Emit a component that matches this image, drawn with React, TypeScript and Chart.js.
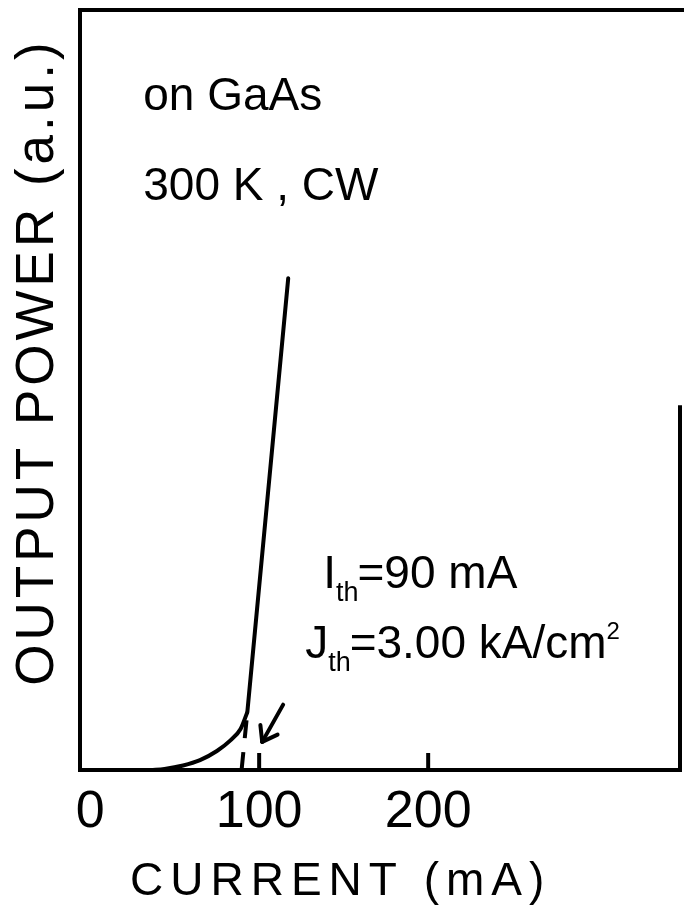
import React, { useEffect, useRef } from "react";
import { Chart, registerables } from "chart.js";

Chart.register(...registerables);

// ---------------- data (current in mA, output power in a.u.) ----------------
const X_MIN = -6;
const X_MAX = 349;
const Y_MIN = 0;
const Y_MAX = 100;
const X_TICKS = [0, 100, 200];
const X_TICK_MARKS = [100, 200];

// spontaneous-emission part below threshold
const SUB_CURRENT = [36, 44, 55, 65, 75, 83, 89, 93];
const SUB_POWER = [0, 0.15, 0.6, 1.3, 2.5, 3.9, 5.4, 7.6];
// lasing part above threshold
const LASE_CURRENT = [93, 117.2];
const LASE_POWER = [7.6, 64.7];
// dashed extrapolation to threshold
const THRESH_CURRENT = [89.6, 93];
const THRESH_POWER = [0, 7.6];
// arrow pointing at threshold (tail, tip)
const ARROW_CURRENT = [114.2, 101.8];
const ARROW_POWER = [8.6, 3.7];

const X_TITLE = "CURRENT (mA)";
const Y_TITLE = "OUTPUT POWER (a.u.)";

// annotation anchors (data units) and texts
const NOTE_CURRENT = [31.4, 31.4, 137.9, 127.2];
const NOTE_POWER = [86.8, 75.0, 23.9, 14.7];
const NOTES: { t: string; k: "main" | "sub" | "sup" }[][] = [
  [{ t: "on GaAs", k: "main" }],
  [{ t: "300 K , CW", k: "main" }],
  [
    { t: "I", k: "main" },
    { t: "th", k: "sub" },
    { t: "=90 mA", k: "main" },
  ],
  [
    { t: "J", k: "main" },
    { t: "th", k: "sub" },
    { t: "=3.00 kA/cm", k: "main" },
    { t: "2", k: "sup" },
  ],
];

// ---------------- styles ----------------
const INK = "#000000";
const FONT = '"Liberation Sans", Arial, Helvetica, sans-serif';
const LINE_W = 4;
const FRAME_W = 4;
const TICK_LEN = 17;
const RIGHT_FRAME_FROM = 48; // power value where right frame line begins

const toPts = (xs: number[], ys: number[]) => xs.map((x, i) => ({ x, y: ys[i] }));

const decorPlugin = {
  id: "decor",
  afterDraw(chart: any) {
    const { ctx, chartArea, scales } = chart;
    const xs = scales.x;
    const ys = scales.y;
    ctx.save();
    ctx.strokeStyle = INK;
    ctx.fillStyle = INK;
    ctx.lineCap = "butt";

    // top frame
    ctx.lineWidth = FRAME_W;
    ctx.beginPath();
    ctx.moveTo(chartArea.left - FRAME_W / 2, chartArea.top);
    ctx.lineTo(chart.width, chartArea.top);
    ctx.stroke();
    // right frame (lower part)
    ctx.beginPath();
    ctx.moveTo(chartArea.right, ys.getPixelForValue(RIGHT_FRAME_FROM));
    ctx.lineTo(chartArea.right, chartArea.bottom + FRAME_W / 2);
    ctx.stroke();

    // inward tick marks
    ctx.lineWidth = 4;
    for (const v of X_TICK_MARKS) {
      const px = xs.getPixelForValue(v);
      ctx.beginPath();
      ctx.moveTo(px, chartArea.bottom);
      ctx.lineTo(px, chartArea.bottom - TICK_LEN);
      ctx.stroke();
    }

    // arrow
    const tx = xs.getPixelForValue(ARROW_CURRENT[0]);
    const ty = ys.getPixelForValue(ARROW_POWER[0]);
    const hx = xs.getPixelForValue(ARROW_CURRENT[1]);
    const hy = ys.getPixelForValue(ARROW_POWER[1]);
    ctx.lineWidth = 4;
    ctx.lineCap = "round";
    ctx.beginPath();
    ctx.moveTo(tx, ty);
    ctx.lineTo(hx, hy);
    ctx.stroke();
    const ang = Math.atan2(ty - hy, tx - hx);
    const wing = 17;
    for (const d of [-0.62, 0.62]) {
      ctx.beginPath();
      ctx.moveTo(hx, hy);
      ctx.lineTo(hx + wing * Math.cos(ang + d), hy + wing * Math.sin(ang + d));
      ctx.stroke();
    }

    // annotations
    ctx.textBaseline = "alphabetic";
    ctx.textAlign = "left";
    NOTES.forEach((segs, i) => {
      let x = xs.getPixelForValue(NOTE_CURRENT[i]);
      const y = ys.getPixelForValue(NOTE_POWER[i]);
      for (const s of segs) {
        const size = s.k === "main" ? 46 : s.k === "sub" ? 27 : 24;
        const dy = s.k === "sub" ? 13 : s.k === "sup" ? -19 : 0;
        ctx.font = `${size}px ${FONT}`;
        ctx.fillText(s.t, x, y + dy);
        x += ctx.measureText(s.t).width + (s.k === "sup" ? 0 : 0);
        if (s.k === "sub") x -= 1;
      }
    });

    // axis titles
    ctx.font = `46px ${FONT}`;
    (ctx as any).letterSpacing = "7px";
    ctx.textAlign = "left";
    ctx.fillText(X_TITLE, 130, 895);

    ctx.font = `53px ${FONT}`;
    (ctx as any).letterSpacing = "4px";
    ctx.translate(53, 362);
    ctx.rotate(-Math.PI / 2);
    ctx.textAlign = "center";
    ctx.fillText(Y_TITLE, 0, 0);
    ctx.restore();
  },
};

export default function App() {
  const ref = useRef<HTMLCanvasElement | null>(null);

  useEffect(() => {
    if (!ref.current) return;
    const chart = new Chart(ref.current, {
      type: "line",
      data: {
        datasets: [
          {
            data: toPts(SUB_CURRENT, SUB_POWER),
            borderColor: INK,
            borderWidth: LINE_W,
            pointRadius: 0,
            cubicInterpolationMode: "monotone",
            fill: false,
          },
          {
            data: toPts(LASE_CURRENT, LASE_POWER),
            borderColor: INK,
            borderWidth: LINE_W,
            pointRadius: 0,
            tension: 0,
            fill: false,
            borderCapStyle: "round",
          },
          {
            data: toPts(THRESH_CURRENT, THRESH_POWER),
            borderColor: INK,
            borderWidth: LINE_W,
            pointRadius: 0,
            tension: 0,
            borderDash: [18, 14],
            fill: false,
          },
        ],
      },
      options: {
        animation: false,
        responsive: false,
        devicePixelRatio: 1,
        events: [],
        layout: { padding: { top: 10, right: 4, left: 0, bottom: 0 } },
        plugins: {
          legend: { display: false },
          tooltip: { enabled: false },
          title: { display: false },
        },
        scales: {
          x: {
            type: "linear",
            min: X_MIN,
            max: X_MAX,
            afterBuildTicks: (s: any) => {
              s.ticks = X_TICKS.map((v) => ({ value: v }));
            },
            afterFit: (s: any) => {
              s.height = 142;
            },
            grid: { display: false, drawTicks: false },
            border: { display: true, color: INK, width: FRAME_W },
            ticks: {
              color: INK,
              font: { family: FONT, size: 52, lineHeight: 1 },
              padding: 17,
              maxRotation: 0,
              autoSkip: false,
            },
          },
          y: {
            type: "linear",
            min: Y_MIN,
            max: Y_MAX,
            afterFit: (s: any) => {
              s.width = 80;
            },
            grid: { display: false, drawTicks: false },
            border: { display: true, color: INK, width: FRAME_W },
            ticks: { display: false },
          },
        },
      },
      plugins: [decorPlugin],
    });
    return () => chart.destroy();
  }, []);

  return (
    <div style={{ position: "absolute", left: 0, top: 0, width: 684, height: 912, background: "#fff" }}>
      <canvas ref={ref} width={684} height={912} style={{ display: "block" }} />
    </div>
  );
}
